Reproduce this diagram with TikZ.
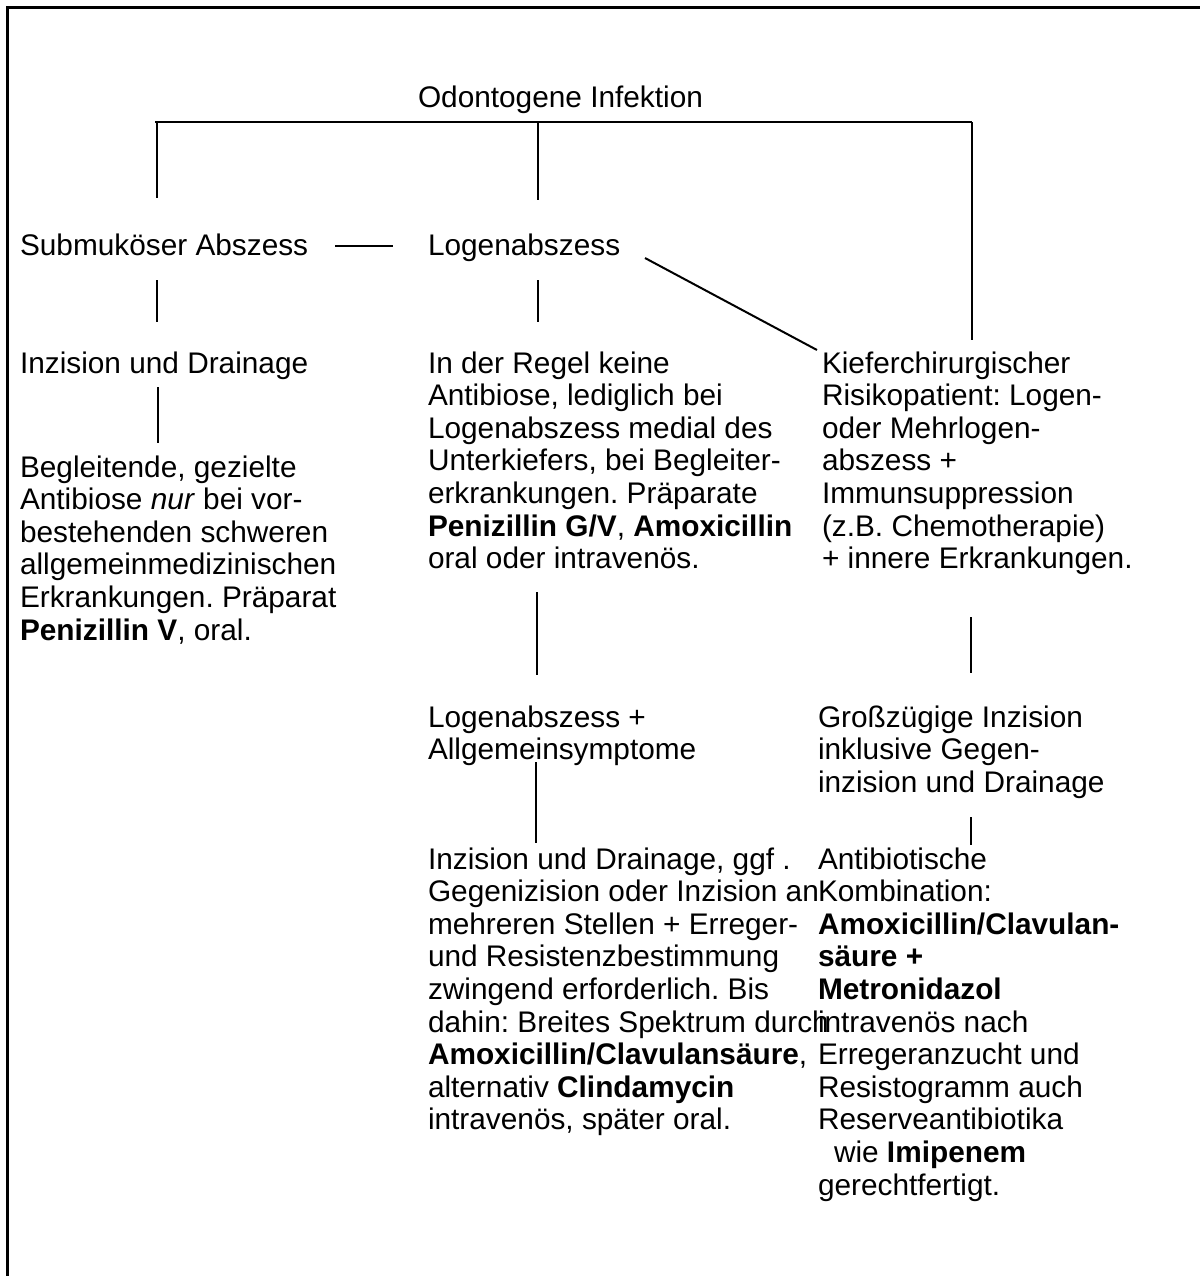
\documentclass[tikz,border=0pt]{standalone}
\usepackage{fontspec}
\setmainfont{Liberation Sans}
\frenchspacing
\begin{document}
\begin{tikzpicture}[x=0.5pt,y=-0.5pt,
  txt/.style={anchor=north west,align=left,inner sep=0pt,outer sep=0pt,
    font=\fontsize{14.9pt}{16.3pt}\selectfont\frenchspacing},
  conn/.style={line width=1pt},
  frame/.style={line width=1.5pt}]
\useasboundingbox (0,0) rectangle (1200,1276);
% open frame
\draw[frame] (7,1276) -- (7,7) -- (1200,7);

% nodes
\node[txt] (title) at (418,84.2) {\strut Odontogene Infektion};
\node[txt] (sub) at (20,232.2) {\strut Submuköser Abszess};
\node[txt] (loge) at (428,232.2) {\strut Logenabszess};
\node[txt] (inz1) at (20,350.2) {\strut Inzision und Drainage};
\node[txt] (antib) at (428,350.2) {\strut In der Regel keine\\
Antibiose, lediglich bei\\
Logenabszess medial des\\
Unterkiefers, bei Begleiter-\\
erkrankungen. Präparate\\
\textbf{Penizillin G/V}, \textbf{Amoxicillin}\\
oral oder intravenös.};
\node[txt] (kiefer) at (822,350.2) {\strut Kieferchirurgischer\\
Risikopatient: Logen-\\
oder Mehrlogen-\\
abszess +\\
Immunsuppression\\
(z.B. Chemotherapie)\\
+ innere Erkrankungen.};
\node[txt] (beglei) at (20,454.2) {\strut Begleitende, gezielte\\
Antibiose \textit{nur} bei vor-\\
bestehenden schweren\\
allgemeinmedizinischen\\
Erkrankungen. Präparat\\
\textbf{Penizillin V}, oral.};
\node[txt] (loge2) at (428,704.2) {\strut Logenabszess +\\
Allgemeinsymptome};
\node[txt] (gross) at (818,704.2) {\strut Großzügige Inzision\\
inklusive Gegen-\\
inzision und Drainage};
\node[txt] (inz2) at (428,846.2) {\strut Inzision und Drainage, ggf .\\
Gegenizision oder Inzision an\\
mehreren Stellen + Erreger-\\
und Resistenzbestimmung\\
zwingend erforderlich. Bis\\
dahin: Breites Spektrum durch\\
\textbf{Amoxicillin/Clavulansäure},\\
alternativ \textbf{Clindamycin}\\
intravenös, später oral.};
\node[txt] (kombi) at (818,846.2) {\strut Antibiotische\\
Kombination:\\
\textbf{Amoxicillin/Clavulan-}\\
\textbf{säure +}\\
\textbf{Metronidazol}\\
intravenös nach\\
Erregeranzucht und\\
Resistogramm auch\\
Reserveantibiotika\\
\hspace*{8pt}wie \textbf{Imipenem}\\
gerechtfertigt.};

% connector end points
\coordinate (barL) at (155,122);
\coordinate (barM) at (538,122);
\coordinate (barR) at (972,122);
\coordinate (subT) at (157,198);
\coordinate (logeT) at (538,200);
\coordinate (kieferT) at (972,340);
\coordinate (dashL) at (335,246);
\coordinate (dashR) at (393,246);
\coordinate (subB1) at (157,280);
\coordinate (subB2) at (157,322);
\coordinate (logeB1) at (538,280);
\coordinate (logeB2) at (538,322);
\coordinate (diagA) at (645,258);
\coordinate (diagB) at (817,350);
\coordinate (inzB1) at (158,387);
\coordinate (inzB2) at (158,443);
\coordinate (antB1) at (537,592);
\coordinate (antB2) at (537,675);
\coordinate (kieB1) at (971,617);
\coordinate (kieB2) at (971,673);
\coordinate (l2B1) at (536,762);
\coordinate (l2B2) at (536,843);
\coordinate (grB1) at (971,817);
\coordinate (grB2) at (971,845);

% connectors
\draw[conn] (barL) -- (barR);
\draw[conn] (barL) ++(2,0) -- (subT);
\draw[conn] (barM) -- (logeT);
\draw[conn] (barR) -- (kieferT);
\draw[line width=0.7pt] (dashL) -- (dashR);
\draw[conn] (subB1) -- (subB2);
\draw[conn] (logeB1) -- (logeB2);
\draw[conn] (diagA) -- (diagB);
\draw[conn] (inzB1) -- (inzB2);
\draw[conn] (antB1) -- (antB2);
\draw[conn] (kieB1) -- (kieB2);
\draw[conn] (l2B1) -- (l2B2);
\draw[conn] (grB1) -- (grB2);
\end{tikzpicture}
\end{document}
